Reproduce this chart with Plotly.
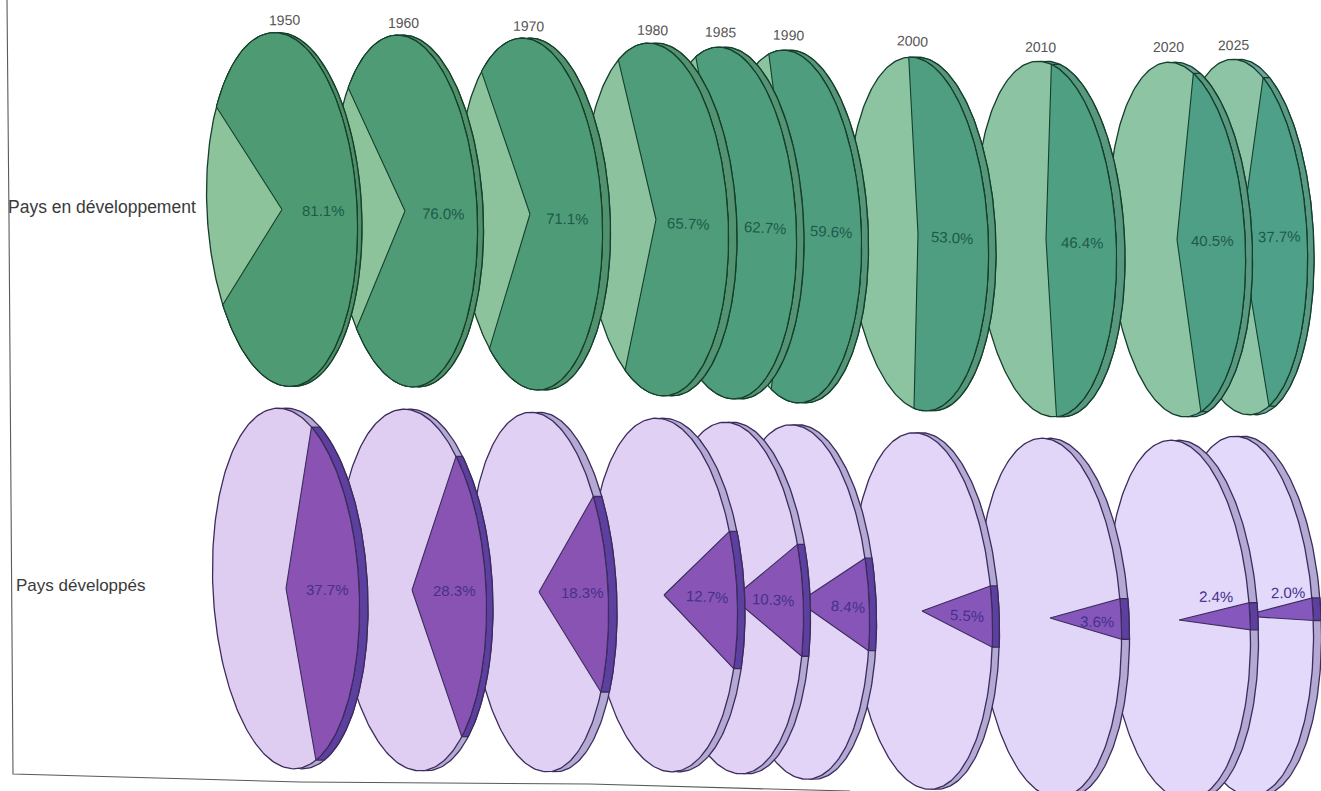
import numpy as np
import plotly.graph_objects as go

# Population shares (%) per year for the two groups of countries
years = [1950, 1960, 1970, 1980, 1985, 1990, 2000, 2010, 2020, 2025]
developing_share = [81.1, 76.0, 71.1, 65.7, 62.7, 59.6, 53.0, 46.4, 40.5, 37.7]
developed_share = [37.7, 28.3, 18.3, 12.7, 10.3, 8.4, 5.5, 3.6, 2.4, 2.0]

# Disc layout on the page, in pixels: centre, half-width, half-height, rim depth
green_cx = [282, 405, 530, 656, 726, 791, 918, 1046, 1177, 1241]
green_cy = [209.5, 211, 214, 219.5, 223, 226.5, 234, 239, 239.5, 237]
green_rx = [75, 72, 72, 72, 70, 70, 70, 70, 68, 66]
green_ry = [177, 176, 176, 176.5, 176, 176.5, 177, 178, 177.5, 178]
green_rim = [4.5, 6, 8, 8.5, 7.5, 7, 7.5, 8.5, 7, 6.5]
green_turn = [2.7, 2.5, 3.3, 4.3, 5, 6.5, 5.4, 5.5, 4.5, 5.3]

violet_cx = [286, 412, 539, 664, 733, 799, 922, 1050, 1179, 1243]
violet_cy = [588.5, 590, 592, 595, 598, 602, 611, 618, 620, 616]
violet_rx = [73, 74, 69, 73, 70, 70, 70, 71, 71, 70]
violet_ry = [180.5, 181, 180, 177, 176, 177.5, 178.5, 180, 180, 180]
violet_rim = [8.5, 6.5, 8.5, 7.5, 7, 7, 7, 8, 8, 8]
violet_turn = [5.5, 4.5, 2, 3, 2, 2, 3, 1.5, 0, -1]

# Label anchors and slants
year_x = [284, 403, 528, 652, 720, 788, 912, 1040, 1168, 1233]
year_y = [20, 23, 26, 30, 32, 35, 41, 47, 47, 45]
year_angle = [-1, 0, 1, 1, 2, 2, 3, 1, 0, -1]
green_label_x = [323, 443, 567, 688, 765, 831, 952, 1082, 1212, 1279]
green_label_y = [210, 213, 218, 223, 227, 231, 237, 242, 240, 236]
green_label_angle = [0, 1, 1, 2, 3, 3, 3, 1, 0, -1]
violet_label_x = [327, 454, 582, 707, 773, 848, 967, 1097, 1216, 1288]
violet_label_y = [589, 590, 592, 596, 599, 606, 615, 621, 596, 592]
violet_label_angle = [0, 0, 0, 3, 3, 4, 3, 1, 1, -1]

TILT = np.radians(3.0)
SANS = "Liberation Sans, Arial, sans-serif"


def hex_mix(a, b, k):
    ca = [int(a[i:i + 2], 16) for i in (1, 3, 5)]
    cb = [int(b[i:i + 2], 16) for i in (1, 3, 5)]
    return "#" + "".join(f"{round(u + (v - u) * k):02x}" for u, v in zip(ca, cb))


def disc_point(t, cx, cy, rx, ry, shift=0.0):
    """Point at parameter t (radians) on a tilted disc seen in perspective."""
    u, v = rx * np.cos(t), ry * np.sin(t)
    x = cx + u * np.cos(TILT) + v * np.sin(TILT) + shift
    y = cy - u * np.sin(TILT) + v * np.cos(TILT)
    return x, y


def polygon(fig, xs, ys, fill, line, width=1.3):
    fig.add_trace(go.Scatter(
        x=xs, y=ys, mode="lines", fill="toself", fillcolor=fill,
        line=dict(color=line, width=width), hoverinfo="skip", showlegend=False,
    ))


def draw_disc(fig, share, cx, cy, rx, ry, rim, turn, base, slice_color,
              rim_base, rim_slice, edge):
    half = share / 100 * np.pi
    mid = np.radians(turn)
    ring = np.linspace(0, 2 * np.pi, 241)
    arc = np.linspace(mid - half, mid + half, 161)

    # Back face and side wall
    bx, by = disc_point(ring, cx, cy, rx, ry, rim)
    polygon(fig, bx, by, rim_base, edge)
    fx, fy = disc_point(arc, cx, cy, rx, ry)
    rx_b, ry_b = disc_point(arc[::-1], cx, cy, rx, ry, rim)
    polygon(fig, np.r_[fx, rx_b, fx[0]], np.r_[fy, ry_b, fy[0]], rim_slice, edge)

    # Front face, then the sector for this share
    ox, oy = disc_point(ring, cx, cy, rx, ry)
    polygon(fig, ox, oy, base, edge)
    polygon(fig, np.r_[cx, fx, cx], np.r_[cy, fy, cy], slice_color, edge, 1.1)


fig = go.Figure()

# Discs further to the right sit behind their left-hand neighbours
for i in range(len(years) - 1, -1, -1):
    k = i / (len(years) - 1)
    draw_disc(
        fig, developing_share[i], green_cx[i], green_cy[i], green_rx[i],
        green_ry[i], green_rim[i], green_turn[i],
        hex_mix("#8cc39a", "#8cc4a5", k), hex_mix("#4e9a73", "#4fa088", k),
        "#6fa3a0", hex_mix("#4f8f68", "#5a9a84", k), "#143f2b",
    )
    draw_disc(
        fig, developed_share[i], violet_cx[i], violet_cy[i], violet_rx[i],
        violet_ry[i], violet_rim[i], violet_turn[i],
        hex_mix("#dfcdf1", "#e3d9fa", k), hex_mix("#8a52b2", "#8558bd", k),
        "#b3a9d3", "#5d3f9f", "#3b2c5c",
    )

annotations = []


def add_label(x, y, text, size, color, angle=0, anchor="center"):
    annotations.append(dict(
        x=x, y=y, xref="x", yref="y", text=text, showarrow=False,
        xanchor=anchor, yanchor="middle", textangle=angle,
        font=dict(family=SANS, size=size, color=color),
    ))


for i, year in enumerate(years):
    add_label(year_x[i], year_y[i], str(year), 14, "#555555", year_angle[i])
    add_label(green_label_x[i], green_label_y[i], f"{developing_share[i]:.1f}%",
              15, "#1d5a49", green_label_angle[i])
    add_label(violet_label_x[i], violet_label_y[i], f"{developed_share[i]:.1f}%",
              15, "#46308c", violet_label_angle[i])

add_label(6, 207, "Pays en développement", 17.5, "#3a3a3a", anchor="left")
add_label(14, 585, "Pays développés", 17, "#3a3a3a", anchor="left")

# Page frame at the left and bottom
frame_x = [7, 9, 13, 300, 590, 770, 850]
frame_y = [0, 220, 774, 782, 784, 789, 791]
frame_path = "M " + " L ".join(f"{x},{y}" for x, y in zip(frame_x, frame_y))

fig.update_layout(
    width=1321, height=791,
    margin=dict(l=0, r=0, t=0, b=0),
    paper_bgcolor="#ffffff", plot_bgcolor="#ffffff",
    xaxis=dict(range=[0, 1321], visible=False, fixedrange=True),
    yaxis=dict(range=[791, 0], visible=False, fixedrange=True),
    annotations=annotations,
    shapes=[dict(type="path", path=frame_path, xref="x", yref="y",
                 line=dict(color="#5a5a5a", width=1.1), layer="below")],
    showlegend=False,
    hovermode=False,
)

fig.write_html("out.html", config=dict(displayModeBar=False))
